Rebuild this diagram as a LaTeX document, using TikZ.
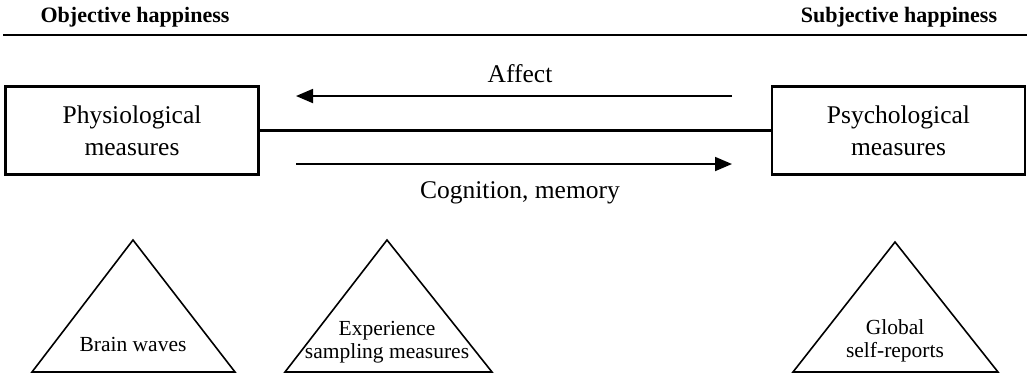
\documentclass[tikz,border=0pt]{standalone}
\usepackage{fontspec}
\setmainfont{Liberation Serif}
\usetikzlibrary{arrows.meta}

\begin{document}
\begin{tikzpicture}[
    x=1pt, y=-1pt,
    measure/.style={draw, line width=2.6pt, minimum width=253pt, minimum height=88pt, inner sep=0pt, align=center, font=\fontsize{25.5}{32}\selectfont},
    heading/.style={anchor=base, font=\fontsize{22}{24}\selectfont\bfseries},
    flow/.style={draw, line width=1.8pt, -{Triangle[length=17pt,width=14pt]}},
    flowtext/.style={anchor=base, font=\fontsize{25.5}{30}\selectfont},
    pyramid/.style={draw, line width=1.6pt, line join=miter},
    method/.style={align=center, font=\fontsize{21.5}{23}\selectfont}
]
\useasboundingbox (0,0) rectangle (1028,376);

% headings and rule
\node[heading] (obj) at (135,22) {Objective happiness};
\node[heading] (subj) at (899,22) {Subjective happiness};
\coordinate (rule-l) at (3,35);
\coordinate (rule-r) at (1027,35);
\draw[line width=2pt] (rule-l) -- (rule-r);

% the two kinds of measures
\node[measure] (phys) at (132,130.5) {Physiological\\measures};
\node[measure] (psych) at (898.5,130.5) {Psychological\\measures};
\draw[line width=2.4pt] (phys) -- (psych);

% affect and cognition
\coordinate (aff-s) at (732,96);
\coordinate (aff-e) at (296,96);
\coordinate (cog-s) at (296,164);
\coordinate (cog-e) at (732,164);
\draw[flow] (aff-s) -- (aff-e);
\draw[flow] (cog-s) -- (cog-e);
\node[flowtext] (aff) at (520,82) {Affect};
\node[flowtext] (cog) at (520,198) {Cognition, memory};

% triangles
\coordinate (bw-t) at (133,240);
\coordinate (bw-l) at (32,372);
\coordinate (bw-r) at (235,372);
\draw[pyramid] (bw-l) -- (bw-t) -- (bw-r) -- cycle;
\node[method] (bw) at (133,344) {Brain waves};

\coordinate (es-t) at (387,240);
\coordinate (es-l) at (285,372);
\coordinate (es-r) at (492,372);
\draw[pyramid] (es-l) -- (es-t) -- (es-r) -- cycle;
\node[method] (es) at (387,342) {Experience\\sampling measures};

\coordinate (gs-t) at (895,242);
\coordinate (gs-l) at (793,372);
\coordinate (gs-r) at (998,372);
\draw[pyramid] (gs-l) -- (gs-t) -- (gs-r) -- cycle;
\node[method] (gs) at (895,341) {Global\\self-reports};

\end{tikzpicture}
\end{document}
